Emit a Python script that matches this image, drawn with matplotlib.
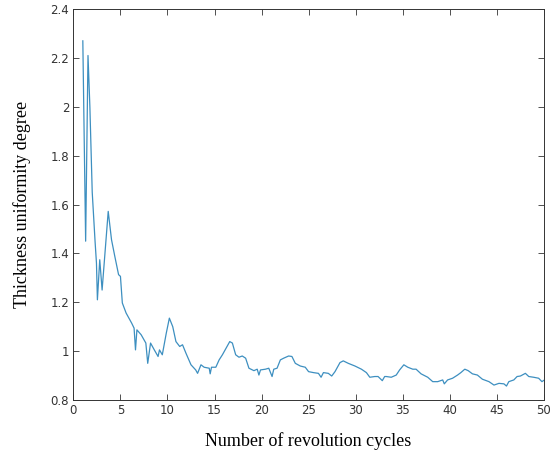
import matplotlib
matplotlib.use("Agg")
import matplotlib.pyplot as plt
from matplotlib.ticker import FuncFormatter

# values
cycles = [1.0, 1.3, 1.55, 1.75, 2.0, 2.3, 2.45, 2.55, 2.8, 3.05, 3.7, 4.05, 4.4,
          4.8, 5.0, 5.2, 5.6, 6.2, 6.45, 6.6, 6.75, 7.2, 7.7, 7.9, 8.2, 8.6,
          9.0, 9.15, 9.45, 9.87, 10.2, 10.56, 10.9, 11.3, 11.6, 11.97, 12.5,
          13.0, 13.2, 13.56, 13.9, 14.44, 14.54, 14.68, 15.14, 15.49, 15.84,
          16.62, 16.9, 17.25, 17.6, 17.95, 18.31, 18.66, 19.19, 19.54, 19.72,
          19.89, 20.42, 20.77, 21.12, 21.3, 21.65, 22.0, 22.35, 22.88, 23.23,
          23.59, 24.12, 24.65, 25.0, 25.52, 26.05, 26.33, 26.58, 27.1, 27.46,
          27.81, 28.34, 28.69, 29.22, 29.93, 30.62, 31.15, 31.51, 32.04, 32.39,
          32.57, 32.84, 33.09, 33.26, 33.79, 34.32, 34.68, 35.13, 35.55, 36.08,
          36.43, 36.96, 37.67, 38.2, 38.73, 39.26, 39.43, 39.78, 40.31, 40.84,
          41.19, 41.61, 41.97, 42.42, 42.95, 43.48, 44.18, 44.71, 45.24, 45.77,
          46.04, 46.29, 46.82, 47.17, 47.52, 48.05, 48.41, 48.93, 49.46, 49.81,
          50.0]
uniformity = [2.27, 1.45, 2.21, 2.0, 1.65, 1.45, 1.36, 1.21, 1.374, 1.25, 1.572,
              1.456, 1.388, 1.313, 1.306, 1.197, 1.156, 1.114, 1.094, 1.005,
              1.087, 1.067, 1.033, 0.95, 1.033, 1.005, 0.978, 1.005, 0.985,
              1.073, 1.135, 1.10, 1.039, 1.019, 1.026, 0.991, 0.944, 0.923,
              0.909, 0.944, 0.934, 0.930, 0.907, 0.934, 0.934, 0.964, 0.985,
              1.039, 1.033, 0.985, 0.975, 0.980, 0.971, 0.930, 0.920, 0.926,
              0.902, 0.923, 0.926, 0.930, 0.896, 0.926, 0.930, 0.964, 0.971,
              0.980, 0.978, 0.950, 0.939, 0.934, 0.916, 0.912, 0.909, 0.893,
              0.912, 0.909, 0.898, 0.916, 0.953, 0.960, 0.950, 0.939, 0.926,
              0.912, 0.893, 0.896, 0.896, 0.889, 0.879, 0.896, 0.896, 0.893,
              0.902, 0.923, 0.944, 0.934, 0.926, 0.926, 0.907, 0.893, 0.875,
              0.875, 0.882, 0.866, 0.882, 0.889, 0.902, 0.912, 0.926, 0.920,
              0.907, 0.902, 0.885, 0.875, 0.861, 0.868, 0.866, 0.857, 0.875,
              0.882, 0.896, 0.898, 0.909, 0.896, 0.893, 0.889, 0.875, 0.88]
x_ticks = [0, 5, 10, 15, 20, 25, 30, 35, 40, 45, 50]
y_ticks = [0.8, 1.0, 1.2, 1.4, 1.6, 1.8, 2.0, 2.2, 2.4]

fig = plt.figure(figsize=(5.52, 4.54), dpi=100)
ax = fig.add_axes([0.133, 0.119, 0.852, 0.861])

ax.plot(cycles, uniformity, color='#3d8fc0', linewidth=0.9)

ax.set_xlim(0, 50)
ax.set_ylim(0.8, 2.4)
ax.set_xticks(x_ticks)
ax.set_yticks(y_ticks)
ax.yaxis.set_major_formatter(FuncFormatter(lambda v, p: '%g' % round(v, 1)))

for s in ax.spines.values():
    s.set_color('#333333')
    s.set_linewidth(0.7)
ax.tick_params(direction='in', top=True, right=True, length=4, width=0.6,
               color='#333333', labelsize=8.5, labelcolor='#333333', pad=3)

ax.set_xlabel('Number of revolution cycles', family='Liberation Serif',
              fontsize=13, labelpad=11)
ax.set_ylabel('Thickness uniformity degree', family='Liberation Serif',
              fontsize=13, labelpad=14)

fig.savefig('out.png', dpi=100)
